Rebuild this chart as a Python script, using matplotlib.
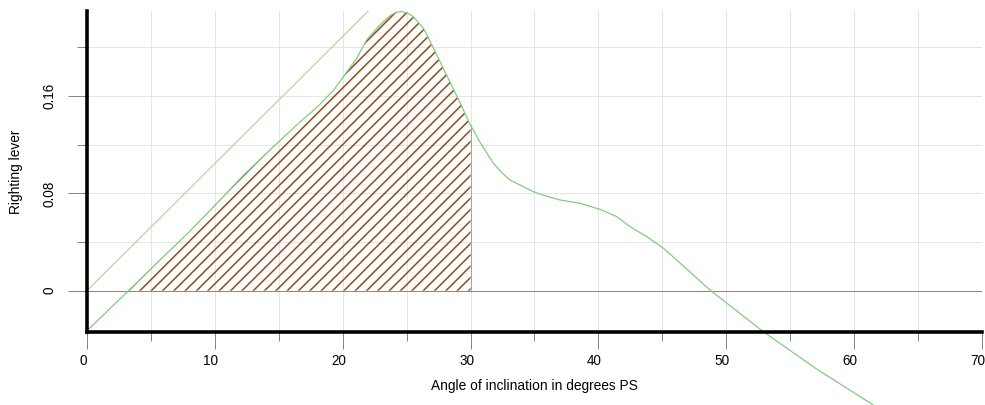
import numpy as np
import matplotlib.pyplot as plt
from matplotlib.transforms import ScaledTranslation

# righting lever curve (angle in degrees, lever)
angles = [0, 2.5, 3.26, 5.73, 7.82, 10.43, 12.25, 14.99, 16.69, 18.0, 19.3,
          20.05, 21.09, 21.87, 22.4, 22.91, 23.7, 24.15, 24.61, 25.05, 25.53, 26.31,
          26.7, 27.1, 28.12, 29.17, 29.95, 30.74, 31.78, 32.4, 33.08, 34.91, 36.0,
          37.0, 38.56, 40.13, 41.43, 42.48, 43.78, 45.08, 46.12, 48.72, 52.89,
          57.0, 61.5, 63.0]
lever = [-0.033, -0.0075, 0.0, 0.0255, 0.0465, 0.0748, 0.0951, 0.1225, 0.139, 0.151, 0.165,
         0.176, 0.191, 0.2062, 0.2125, 0.2185, 0.2262, 0.2288, 0.2295, 0.2285, 0.2253, 0.2158,
         0.208, 0.1993, 0.1774, 0.1547, 0.137, 0.122, 0.1048, 0.0975, 0.091, 0.0814, 0.0775,
         0.0746, 0.0719, 0.0669, 0.0609, 0.0526, 0.0444, 0.0349, 0.0252, 0.0006, -0.0337,
         -0.064, -0.094, -0.104]

# initial slope (GM) line
tangent_angles = [0, 57.3]
tangent_lever = [0, 0.599]

area_limit = 30

x_ticks = [0, 10, 20, 30, 40, 50, 60, 70]
x_minor = [5, 15, 25, 35, 45, 55, 65]
y_ticks = [0, 0.08, 0.16]
y_labels = ['0', '0.08', '0.16']
y_minor = [0.04, 0.12, 0.20]

plt.rcParams['font.family'] = ['Liberation Sans', 'DejaVu Sans']
plt.rcParams['hatch.linewidth'] = 1.6

dpi = 68
fig = plt.figure(figsize=(985 / dpi, 405 / dpi), dpi=dpi)
ax = fig.add_axes([87 / 985, 73 / 405, 895 / 985, 321 / 405])

ax.set_xlim(0, 70)
ax.set_ylim(-0.034, 0.230)
ax.set_xticks(x_ticks)
ax.set_xticks(x_minor, minor=True)
ax.set_yticks(y_ticks)
ax.set_yticklabels(y_labels, va='center')
ax.set_yticks(y_minor, minor=True)
ax.grid(which='both', color='#e4e4e4', lw=1.0)
ax.set_axisbelow(True)

ax.axhline(0, color='#8a8a8a', lw=1.1, zorder=1.5)

a = np.array(angles)
l = np.array(lever)
keep = a < area_limit
end_val = np.interp(area_limit, a, l)
fa = np.append(a[keep], area_limit)
fl = np.append(l[keep], end_val)
brown = '#8c4a1c'
ax.fill_between(fa, 0, fl, where=fl >= 0, interpolate=True,
                facecolor='none', edgecolor=brown, hatch='//', linewidth=0)
ax.vlines(area_limit, 0, end_val, color=brown, lw=0.8, alpha=0.6)

ax.plot(tangent_angles, tangent_lever, color='#c8c98c', lw=1.2)
ax.plot(angles, lever, color='#7dcd7d', lw=1.3, clip_on=False)

for side in ['top', 'right']:
    ax.spines[side].set_visible(False)
for side in ['left', 'bottom']:
    ax.spines[side].set_linewidth(3.8)
    ax.spines[side].set_color('black')

ax.tick_params(axis='x', which='major', length=18, width=1, color='#808080',
               pad=4.8, labelsize=14.3)
ax.tick_params(axis='x', which='minor', length=9.5, width=1, color='#808080')
ax.tick_params(axis='y', which='major', length=20, width=1, color='#808080',
               pad=12.7, labelsize=14.3, labelrotation=90)
ax.tick_params(axis='y', which='minor', length=10.6, width=1, color='#808080')

shift = ScaledTranslation(-4 / dpi, 0, fig.dpi_scale_trans)
for lbl in ax.get_xticklabels():
    lbl.set_transform(lbl.get_transform() + shift)

ax.set_xlabel('Angle of inclination in degrees PS', fontsize=14.5)
ax.xaxis.set_label_coords(0.5, -0.145)
ax.set_ylabel('Righting lever', fontsize=14.5)
ax.yaxis.set_label_coords(-0.0715, 0.5)

fig.savefig('out.png', dpi=dpi)
